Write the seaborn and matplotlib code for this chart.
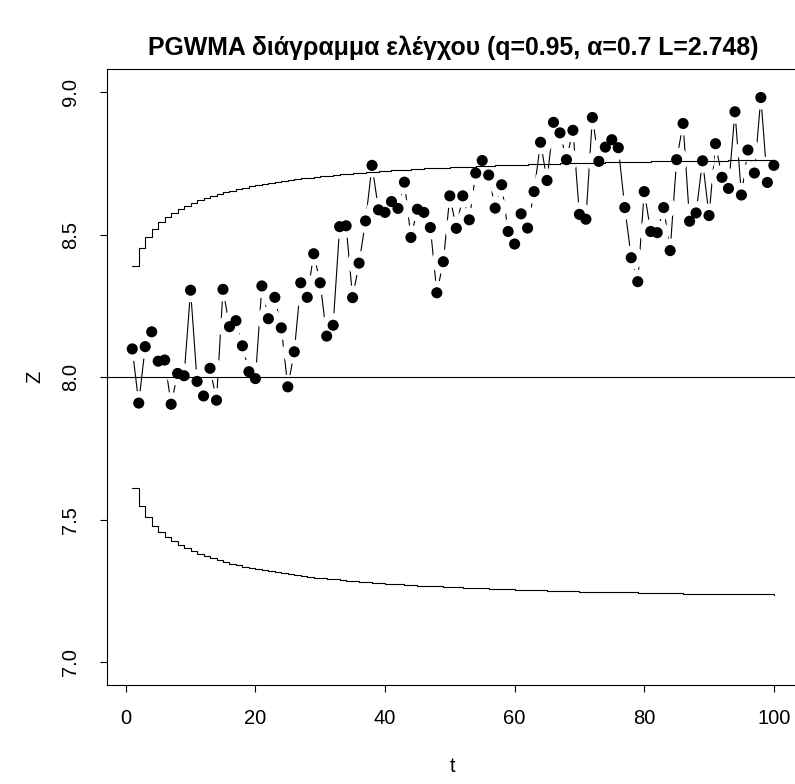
import numpy as np
import pandas as pd
import matplotlib
matplotlib.use("Agg")
import matplotlib.pyplot as plt
import seaborn as sns

# ---- data ----
t = list(range(1, 101))
z = [8.099, 7.909, 8.107, 8.159, 8.056, 8.060, 7.905, 8.013, 8.005, 8.305,
     7.985, 7.934, 8.031, 7.919, 8.308, 8.177, 8.198, 8.110, 8.019, 7.995,
     8.320, 8.205, 8.280, 8.173, 7.966, 8.089, 8.331, 8.280, 8.433, 8.331,
     8.144, 8.182, 8.528, 8.531, 8.279, 8.400, 8.548, 8.743, 8.587, 8.578,
     8.616, 8.592, 8.684, 8.490, 8.589, 8.578, 8.525, 8.296, 8.405, 8.636,
     8.522, 8.636, 8.552, 8.716, 8.760, 8.709, 8.593, 8.675, 8.511, 8.467,
     8.573, 8.523, 8.651, 8.824, 8.690, 8.894, 8.857, 8.763, 8.866, 8.571,
     8.554, 8.911, 8.757, 8.807, 8.833, 8.805, 8.595, 8.419, 8.335, 8.651,
     8.511, 8.507, 8.595, 8.444, 8.763, 8.890, 8.547, 8.576, 8.759, 8.567,
     8.819, 8.701, 8.662, 8.931, 8.639, 8.797, 8.716, 8.981, 8.683, 8.743]
center = 8.0
halfwidth = [0.389, 0.453, 0.492, 0.521, 0.543, 0.561, 0.576, 0.589, 0.601, 0.611,
             0.620, 0.628, 0.636, 0.642, 0.649, 0.654, 0.660, 0.665, 0.669, 0.674,
             0.678, 0.681, 0.685, 0.688, 0.691, 0.694, 0.697, 0.700, 0.703, 0.705,
             0.707, 0.709, 0.712, 0.714, 0.715, 0.717, 0.719, 0.721, 0.722, 0.724,
             0.725, 0.727, 0.728, 0.730, 0.731, 0.732, 0.733, 0.734, 0.735, 0.736,
             0.737, 0.738, 0.739, 0.740, 0.741, 0.742, 0.743, 0.744, 0.744, 0.745,
             0.746, 0.747, 0.747, 0.748, 0.749, 0.749, 0.750, 0.750, 0.751, 0.752,
             0.752, 0.753, 0.753, 0.754, 0.754, 0.755, 0.755, 0.755, 0.756, 0.756,
             0.757, 0.757, 0.757, 0.758, 0.758, 0.759, 0.759, 0.759, 0.760, 0.760,
             0.760, 0.760, 0.761, 0.761, 0.761, 0.762, 0.762, 0.762, 0.762, 0.763]
ucl = [center + v for v in halfwidth]
lcl = [center - v for v in halfwidth]
xticks = [0, 20, 40, 60, 80, 100]
yticks = [7.0, 7.5, 8.0, 8.5, 9.0]
title = "PGWMA διάγραμμα ελέγχου (q=0.95, α=0.7 L=2.748)"

df = pd.DataFrame({"t": t, "Z": z, "UCL": ucl, "LCL": lcl})

sns.set_style("white")
plt.rcParams["font.family"] = ["Liberation Sans", "DejaVu Sans"]
plt.rcParams["text.color"] = "black"

fig = plt.figure(figsize=(7.95, 7.84), dpi=100)
ax = fig.add_axes([106.6 / 795, 99 / 784, (799.5 - 106.6) / 795, (685 - 69.3) / 784])

# series line (type "b": line with gaps around the points)
sns.lineplot(data=df, x="t", y="Z", ax=ax, color="black", linewidth=0.8,
             estimator=None, sort=False, zorder=1)
sns.scatterplot(data=df, x="t", y="Z", ax=ax, color="white", s=300,
                edgecolor="none", linewidth=0, zorder=2)
sns.scatterplot(data=df, x="t", y="Z", ax=ax, color="black", s=64,
                edgecolor="none", linewidth=0, zorder=3)

# control limits (step lines) and centre line
ax.step(df["t"], df["UCL"], where="post", color="black", linewidth=0.8, zorder=4)
ax.step(df["t"], df["LCL"], where="post", color="black", linewidth=0.8, zorder=4)
ax.axhline(center, color="black", linewidth=0.8, zorder=4)

ax.set_xlim(1 - 0.04 * 99, 100 + 0.04 * 99)
ax.set_ylim(7.0 - 0.08, 9.0 + 0.08)
ax.set_xticks(xticks)
ax.set_yticks(yticks)
ax.set_xticklabels([str(v) for v in xticks])
ax.set_yticklabels([f"{v:.1f}" for v in yticks], rotation=90, va="center")
ax.tick_params(axis="both", direction="out", length=5, width=0.8, color="black",
               labelsize=14.5, labelcolor="black", left=True, bottom=True)
ax.tick_params(axis="x", pad=12)
ax.tick_params(axis="y", pad=14)
for s in ax.spines.values():
    s.set_visible(True)
    s.set_color("black")
    s.set_linewidth(0.8)

ax.set_xlabel("t", fontsize=14.5, labelpad=21, color="black")
ax.set_ylabel("Z", fontsize=14.5, labelpad=12, color="black")
fig.text(453 / 795, 1 - 48 / 784, title, ha="center", va="center",
         fontsize=17.9, fontweight="bold", color="black")

fig.savefig("out.png", dpi=100)
